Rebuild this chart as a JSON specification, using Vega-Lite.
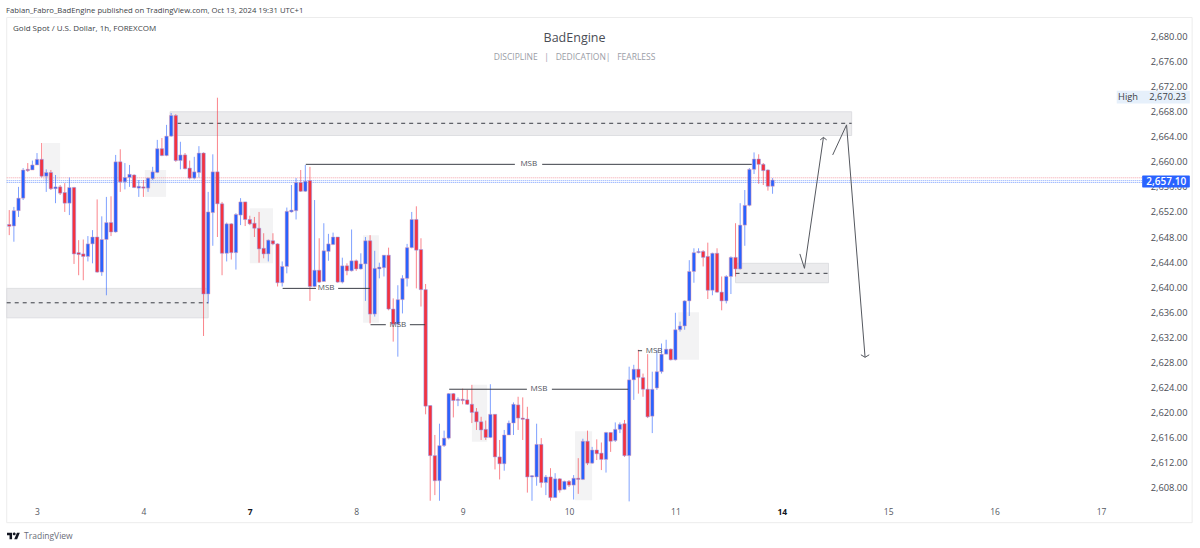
{"$schema":"https://vega.github.io/schema/vega-lite/v6.json","width":1200,"height":548,"autosize":"none","padding":0,"background":"white","config":{"view":{"stroke":null},"font":"Open Sans"},
"datasets":{"c":[
{"b":-6,"o":2650.0,"h":2652.3,"l":2648.3,"c":2649.7,"d":"D"},
{"b":-5,"o":2649.75,"h":2652.8,"l":2647.25,"c":2652.2,"d":"U"},
{"b":-4,"o":2652.2,"h":2656.0,"l":2651.2,"c":2654.2,"d":"U"},
{"b":-3,"o":2654.2,"h":2659.0,"l":2653.9,"c":2658.7,"d":"U"},
{"b":-2,"o":2658.8,"h":2659.8,"l":2658.4,"c":2658.6,"d":"D"},
{"b":-1,"o":2658.7,"h":2660.2,"l":2658.7,"c":2659.5,"d":"U"},
{"b":0,"o":2659.5,"h":2661.4,"l":2659.5,"c":2660.4,"d":"U"},
{"b":1,"o":2660.4,"h":2663.0,"l":2657.5,"c":2657.7,"d":"D"},
{"b":2,"o":2657.7,"h":2658.8,"l":2655.2,"c":2658.3,"d":"U"},
{"b":3,"o":2658.3,"h":2658.7,"l":2655.5,"c":2655.7,"d":"D"},
{"b":4,"o":2655.7,"h":2657.9,"l":2653.4,"c":2656.0,"d":"U"},
{"b":5,"o":2656.0,"h":2656.3,"l":2654.7,"c":2655.0,"d":"D"},
{"b":6,"o":2655.1,"h":2656.6,"l":2652.0,"c":2653.4,"d":"D"},
{"b":7,"o":2653.4,"h":2657.5,"l":2651.5,"c":2655.9,"d":"U"},
{"b":8,"o":2655.9,"h":2656.0,"l":2643.7,"c":2645.3,"d":"D"},
{"b":9,"o":2645.5,"h":2647.5,"l":2641.9,"c":2645.2,"d":"D"},
{"b":10,"o":2645.3,"h":2647.6,"l":2641.1,"c":2644.9,"d":"D"},
{"b":11,"o":2644.9,"h":2648.15,"l":2644.1,"c":2646.9,"d":"U"},
{"b":12,"o":2646.9,"h":2649.1,"l":2643.8,"c":2648.0,"d":"U"},
{"b":13,"o":2648.0,"h":2654.0,"l":2642.3,"c":2642.4,"d":"D"},
{"b":14,"o":2642.4,"h":2651.3,"l":2641.8,"c":2647.6,"d":"U"},
{"b":15,"o":2647.6,"h":2654.4,"l":2638.7,"c":2650.3,"d":"U"},
{"b":16,"o":2650.3,"h":2654.5,"l":2648.15,"c":2648.8,"d":"D"},
{"b":17,"o":2648.8,"h":2661.1,"l":2648.7,"c":2660.0,"d":"U"},
{"b":18,"o":2660.0,"h":2662.0,"l":2655.2,"c":2656.8,"d":"D"},
{"b":19,"o":2656.8,"h":2659.8,"l":2655.6,"c":2657.5,"d":"U"},
{"b":20,"o":2657.5,"h":2659.5,"l":2656.0,"c":2658.0,"d":"U"},
{"b":21,"o":2657.9,"h":2658.0,"l":2655.8,"c":2655.9,"d":"D"},
{"b":22,"o":2655.8,"h":2657.1,"l":2654.4,"c":2656.1,"d":"U"},
{"b":23,"o":2656.0,"h":2657.1,"l":2654.4,"c":2655.8,"d":"D"},
{"b":24,"o":2655.8,"h":2657.5,"l":2655.2,"c":2657.4,"d":"U"},
{"b":25,"o":2657.3,"h":2659.2,"l":2657.1,"c":2658.4,"d":"U"},
{"b":26,"o":2658.3,"h":2663.5,"l":2658.2,"c":2662.1,"d":"U"},
{"b":27,"o":2662.1,"h":2663.8,"l":2660.9,"c":2661.0,"d":"D"},
{"b":28,"o":2661.0,"h":2665.9,"l":2660.9,"c":2664.1,"d":"U"},
{"b":29,"o":2664.1,"h":2667.8,"l":2664.0,"c":2667.4,"d":"U"},
{"b":30,"o":2667.4,"h":2667.6,"l":2660.0,"c":2660.2,"d":"D"},
{"b":31,"o":2660.2,"h":2663.2,"l":2658.8,"c":2661.1,"d":"U"},
{"b":32,"o":2661.1,"h":2661.4,"l":2658.8,"c":2658.9,"d":"D"},
{"b":33,"o":2659.0,"h":2660.2,"l":2657.2,"c":2657.4,"d":"D"},
{"b":34,"o":2657.4,"h":2660.8,"l":2657.2,"c":2658.4,"d":"U"},
{"b":35,"o":2658.3,"h":2662.5,"l":2657.5,"c":2661.4,"d":"U"},
{"b":36,"o":2661.4,"h":2661.5,"l":2632.2,"c":2638.9,"d":"D"},
{"b":37,"o":2638.9,"h":2655.2,"l":2637.4,"c":2652.0,"d":"U"},
{"b":38,"o":2651.9,"h":2661.2,"l":2646.6,"c":2658.4,"d":"U"},
{"b":39,"o":2658.4,"h":2670.23,"l":2648.0,"c":2653.3,"d":"D"},
{"b":40,"o":2653.3,"h":2653.6,"l":2641.9,"c":2645.4,"d":"D"},
{"b":41,"o":2645.4,"h":2650.3,"l":2644.1,"c":2650.1,"d":"U"},
{"b":42,"o":2650.1,"h":2650.2,"l":2644.4,"c":2645.5,"d":"D"},
{"b":43,"o":2645.5,"h":2651.8,"l":2642.8,"c":2651.6,"d":"U"},
{"b":44,"o":2651.5,"h":2654.2,"l":2649.9,"c":2653.6,"d":"U"},
{"b":45,"o":2653.6,"h":2653.6,"l":2649.75,"c":2650.8,"d":"D"},
{"b":46,"o":2650.8,"h":2651.4,"l":2649.9,"c":2650.1,"d":"D"},
{"b":47,"o":2650.2,"h":2651.2,"l":2648.0,"c":2649.4,"d":"D"},
{"b":48,"o":2649.4,"h":2652.0,"l":2643.9,"c":2646.1,"d":"D"},
{"b":49,"o":2646.2,"h":2648.6,"l":2644.6,"c":2645.3,"d":"D"},
{"b":50,"o":2645.3,"h":2647.6,"l":2644.1,"c":2647.5,"d":"U"},
{"b":51,"o":2647.4,"h":2648.6,"l":2646.7,"c":2646.9,"d":"D"},
{"b":52,"o":2646.9,"h":2647.0,"l":2640.1,"c":2640.7,"d":"D"},
{"b":53,"o":2640.7,"h":2644.1,"l":2640.1,"c":2643.3,"d":"U"},
{"b":54,"o":2643.3,"h":2652.7,"l":2642.2,"c":2652.1,"d":"U"},
{"b":55,"o":2652.0,"h":2656.3,"l":2651.9,"c":2652.3,"d":"U"},
{"b":56,"o":2652.2,"h":2657.4,"l":2650.8,"c":2656.7,"d":"U"},
{"b":57,"o":2656.7,"h":2658.7,"l":2655.2,"c":2655.3,"d":"D"},
{"b":58,"o":2655.3,"h":2659.5,"l":2655.2,"c":2656.9,"d":"U"},
{"b":59,"o":2657.0,"h":2659.2,"l":2637.8,"c":2640.1,"d":"D"},
{"b":60,"o":2640.1,"h":2653.9,"l":2640.0,"c":2642.7,"d":"U"},
{"b":61,"o":2642.7,"h":2647.8,"l":2640.7,"c":2640.8,"d":"D"},
{"b":62,"o":2640.9,"h":2650.2,"l":2640.9,"c":2645.8,"d":"U"},
{"b":63,"o":2645.7,"h":2648.5,"l":2644.2,"c":2646.9,"d":"U"},
{"b":64,"o":2646.8,"h":2648.7,"l":2646.7,"c":2648.0,"d":"U"},
{"b":65,"o":2648.0,"h":2648.0,"l":2640.7,"c":2640.8,"d":"D"},
{"b":66,"o":2640.8,"h":2644.7,"l":2640.6,"c":2643.4,"d":"U"},
{"b":67,"o":2643.4,"h":2643.8,"l":2641.9,"c":2642.6,"d":"D"},
{"b":68,"o":2642.6,"h":2649.2,"l":2642.5,"c":2644.2,"d":"U"},
{"b":69,"o":2644.2,"h":2644.4,"l":2642.6,"c":2642.9,"d":"D"},
{"b":70,"o":2642.9,"h":2645.4,"l":2642.8,"c":2643.7,"d":"U"},
{"b":71,"o":2643.7,"h":2648.0,"l":2637.8,"c":2647.4,"d":"U"},
{"b":72,"o":2647.4,"h":2648.3,"l":2634.2,"c":2635.7,"d":"D"},
{"b":73,"o":2635.7,"h":2645.8,"l":2635.3,"c":2643.0,"d":"U"},
{"b":74,"o":2642.9,"h":2643.9,"l":2641.4,"c":2643.2,"d":"U"},
{"b":75,"o":2643.1,"h":2645.1,"l":2641.7,"c":2645.1,"d":"U"},
{"b":76,"o":2645.1,"h":2646.3,"l":2636.3,"c":2636.5,"d":"D"},
{"b":77,"o":2636.5,"h":2638.2,"l":2631.3,"c":2634.1,"d":"D"},
{"b":78,"o":2634.1,"h":2640.3,"l":2628.9,"c":2638.0,"d":"U"},
{"b":79,"o":2638.0,"h":2641.9,"l":2635.8,"c":2641.4,"d":"U"},
{"b":80,"o":2641.4,"h":2646.9,"l":2640.1,"c":2646.3,"d":"U"},
{"b":81,"o":2646.3,"h":2652.0,"l":2646.2,"c":2650.8,"d":"U"},
{"b":82,"o":2650.8,"h":2652.9,"l":2639.8,"c":2645.9,"d":"D"},
{"b":83,"o":2646.0,"h":2647.8,"l":2636.9,"c":2639.6,"d":"D"},
{"b":84,"o":2639.6,"h":2640.5,"l":2619.7,"c":2621.0,"d":"D"},
{"b":85,"o":2621.1,"h":2621.1,"l":2605.9,"c":2613.1,"d":"D"},
{"b":86,"o":2613.1,"h":2616.4,"l":2606.8,"c":2609.1,"d":"D"},
{"b":87,"o":2609.1,"h":2618.2,"l":2605.9,"c":2614.7,"d":"U"},
{"b":88,"o":2614.7,"h":2617.1,"l":2614.5,"c":2615.9,"d":"U"},
{"b":89,"o":2615.9,"h":2623.1,"l":2615.7,"c":2623.0,"d":"U"},
{"b":90,"o":2623.0,"h":2623.1,"l":2619.2,"c":2621.9,"d":"D"},
{"b":91,"o":2621.9,"h":2622.4,"l":2621.0,"c":2622.1,"d":"U"},
{"b":92,"o":2622.1,"h":2623.8,"l":2621.3,"c":2621.9,"d":"D"},
{"b":93,"o":2622.0,"h":2623.6,"l":2621.2,"c":2621.3,"d":"D"},
{"b":94,"o":2621.3,"h":2624.4,"l":2618.3,"c":2620.0,"d":"D"},
{"b":95,"o":2620.1,"h":2620.7,"l":2617.2,"c":2618.5,"d":"D"},
{"b":96,"o":2618.5,"h":2619.3,"l":2615.6,"c":2617.2,"d":"D"},
{"b":97,"o":2617.3,"h":2618.7,"l":2615.6,"c":2616.0,"d":"D"},
{"b":98,"o":2616.0,"h":2624.5,"l":2615.9,"c":2619.7,"d":"U"},
{"b":99,"o":2619.7,"h":2619.7,"l":2610.9,"c":2612.9,"d":"D"},
{"b":100,"o":2612.9,"h":2615.6,"l":2609.3,"c":2611.8,"d":"D"},
{"b":101,"o":2611.8,"h":2617.2,"l":2610.7,"c":2616.4,"d":"U"},
{"b":102,"o":2616.4,"h":2618.7,"l":2616.4,"c":2618.3,"d":"U"},
{"b":103,"o":2618.3,"h":2621.6,"l":2616.4,"c":2621.3,"d":"U"},
{"b":104,"o":2621.2,"h":2622.5,"l":2617.2,"c":2619.1,"d":"D"},
{"b":105,"o":2619.1,"h":2622.4,"l":2615.6,"c":2618.9,"d":"D"},
{"b":106,"o":2618.95,"h":2620.9,"l":2607.2,"c":2609.7,"d":"D"},
{"b":107,"o":2609.7,"h":2610.0,"l":2605.9,"c":2609.9,"d":"U"},
{"b":108,"o":2609.7,"h":2618.2,"l":2608.3,"c":2614.9,"d":"U"},
{"b":109,"o":2614.9,"h":2615.9,"l":2608.0,"c":2608.8,"d":"D"},
{"b":110,"o":2608.8,"h":2610.0,"l":2606.8,"c":2609.7,"d":"U"},
{"b":111,"o":2609.7,"h":2611.1,"l":2605.9,"c":2606.4,"d":"D"},
{"b":112,"o":2606.4,"h":2610.3,"l":2606.4,"c":2609.4,"d":"U"},
{"b":113,"o":2609.4,"h":2609.5,"l":2607.2,"c":2607.6,"d":"D"},
{"b":114,"o":2607.7,"h":2609.1,"l":2607.6,"c":2609.0,"d":"U"},
{"b":115,"o":2609.0,"h":2609.2,"l":2608.1,"c":2608.4,"d":"D"},
{"b":116,"o":2608.4,"h":2610.0,"l":2606.1,"c":2609.5,"d":"U"},
{"b":117,"o":2609.5,"h":2612.7,"l":2607.0,"c":2609.3,"d":"D"},
{"b":118,"o":2609.3,"h":2615.8,"l":2609.2,"c":2615.4,"d":"U"},
{"b":119,"o":2615.4,"h":2617.1,"l":2611.6,"c":2611.9,"d":"D"},
{"b":120,"o":2611.9,"h":2614.5,"l":2611.8,"c":2614.0,"d":"U"},
{"b":121,"o":2614.0,"h":2615.7,"l":2612.4,"c":2613.4,"d":"D"},
{"b":122,"o":2613.5,"h":2615.2,"l":2610.8,"c":2612.5,"d":"D"},
{"b":123,"o":2612.5,"h":2616.9,"l":2610.4,"c":2616.8,"d":"U"},
{"b":124,"o":2616.8,"h":2616.8,"l":2613.7,"c":2615.4,"d":"D"},
{"b":125,"o":2615.5,"h":2618.4,"l":2615.3,"c":2617.3,"d":"U"},
{"b":126,"o":2617.3,"h":2618.4,"l":2616.7,"c":2618.1,"d":"U"},
{"b":127,"o":2618.2,"h":2618.8,"l":2612.9,"c":2613.1,"d":"D"},
{"b":128,"o":2613.1,"h":2627.3,"l":2605.8,"c":2625.2,"d":"U"},
{"b":129,"o":2625.2,"h":2627.6,"l":2622.0,"c":2626.9,"d":"U"},
{"b":130,"o":2626.9,"h":2630.0,"l":2623.0,"c":2625.6,"d":"D"},
{"b":131,"o":2625.55,"h":2626.2,"l":2622.5,"c":2623.7,"d":"D"},
{"b":132,"o":2623.7,"h":2629.3,"l":2619.1,"c":2619.3,"d":"D"},
{"b":133,"o":2619.4,"h":2626.5,"l":2616.7,"c":2623.7,"d":"U"},
{"b":134,"o":2623.9,"h":2630.0,"l":2623.6,"c":2626.5,"d":"U"},
{"b":135,"o":2626.5,"h":2631.0,"l":2626.2,"c":2629.3,"d":"U"},
{"b":136,"o":2629.3,"h":2631.6,"l":2629.3,"c":2630.1,"d":"U"},
{"b":137,"o":2630.1,"h":2630.2,"l":2628.3,"c":2628.4,"d":"D"},
{"b":138,"o":2628.4,"h":2635.9,"l":2628.3,"c":2633.2,"d":"U"},
{"b":139,"o":2633.2,"h":2634.5,"l":2632.9,"c":2633.8,"d":"U"},
{"b":140,"o":2633.8,"h":2637.9,"l":2633.2,"c":2637.8,"d":"U"},
{"b":141,"o":2637.8,"h":2644.3,"l":2635.4,"c":2642.5,"d":"U"},
{"b":142,"o":2642.5,"h":2646.2,"l":2640.7,"c":2645.5,"d":"U"},
{"b":143,"o":2645.5,"h":2646.2,"l":2645.4,"c":2645.7,"d":"U"},
{"b":144,"o":2645.7,"h":2645.9,"l":2643.3,"c":2644.75,"d":"D"},
{"b":145,"o":2644.9,"h":2647.1,"l":2638.1,"c":2639.5,"d":"D"},
{"b":146,"o":2639.5,"h":2645.5,"l":2638.7,"c":2645.4,"d":"U"},
{"b":147,"o":2645.4,"h":2646.2,"l":2639.1,"c":2639.2,"d":"D"},
{"b":148,"o":2639.2,"h":2641.7,"l":2636.3,"c":2637.8,"d":"D"},
{"b":149,"o":2637.8,"h":2641.9,"l":2637.4,"c":2641.7,"d":"U"},
{"b":150,"o":2641.7,"h":2644.9,"l":2638.9,"c":2644.75,"d":"U"},
{"b":151,"o":2644.75,"h":2650.2,"l":2641.7,"c":2642.9,"d":"D"},
{"b":152,"o":2642.9,"h":2653.4,"l":2642.8,"c":2649.9,"d":"U"},
{"b":153,"o":2649.9,"h":2655.5,"l":2646.6,"c":2653.05,"d":"U"},
{"b":154,"o":2653.05,"h":2659.0,"l":2652.9,"c":2658.8,"d":"U"},
{"b":155,"o":2658.8,"h":2661.5,"l":2658.05,"c":2660.45,"d":"U"},
{"b":156,"o":2660.45,"h":2661.2,"l":2656.5,"c":2659.6,"d":"D"},
{"b":157,"o":2659.6,"h":2659.8,"l":2656.3,"c":2658.6,"d":"D"},
{"b":158,"o":2658.7,"h":2658.8,"l":2655.4,"c":2656.1,"d":"D"},
{"b":159,"o":2656.1,"h":2657.4,"l":2654.9,"c":2657.1,"d":"U"}
]},
"encoding":{
"x":{"field":"b","type":"quantitative","scale":{"domain":[-8,251.4],"nice":false,"zero":false,"padding":0},"axis":{"title":null,"orient":"bottom","offset":-41,"values":[0,23,46,69,92,115,138,161,184,207,230],"labelExpr":"['3','4','7','8','9','10','11','14','15','16','17'][datum.value/23]","domain":false,"ticks":false,"grid":false,"labelPadding":0,"labelFontSize":8.5,"labelFont":"Open Sans","labelColor":{"condition":{"test":"datum.value==46||datum.value==161","value":"#131722"},"value":"#55585f"},"labelFontWeight":{"condition":{"test":"datum.value==46||datum.value==161","value":"bold"},"value":"normal"},"labelFlush":false,"labelOverlap":false}},
"y":{"field":"p","type":"quantitative","title":null,"scale":{"domain":[2598.36,2685.83],"nice":false,"zero":false,"padding":0},"axis":{"title":null,"orient":"right","offset":-13,"values":[2608,2612,2616,2620,2624,2628,2632,2636,2640,2644,2648,2652,2656,2660,2664,2668,2672,2676,2680],"format":",.2f","domain":false,"ticks":false,"grid":false,"labelPadding":0,"labelAlign":"right","labelFontSize":9.3,"labelFont":"Open Sans","labelColor":"#4a4d55","labelFlush":false,"labelOverlap":false}}
},
"layer":[
{"data":{"values":[{"b":-6.55,"b2":249.7,"p":2683.03,"p2":2602.4}]},"mark":{"type":"rect","filled":false,"stroke":"#ececec","strokeWidth":1},"encoding":{"x2":{"field":"b2"},"y2":{"field":"p2"}}},
{"data":{"values":[
{"b":1.3,"b2":5.0,"p":2663.0,"p2":2657.1},{"b":23.3,"b2":27.9,"p":2658.7,"p2":2654.4},{"b":46.0,"b2":51.0,"p":2652.6,"p2":2643.8},{"b":70.5,"b2":73.9,"p":2648.3,"p2":2634.3},{"b":94.0,"b2":97.3,"p":2624.4,"p2":2615.3},{"b":116.3,"b2":120.0,"p":2617.0,"p2":2606.0},{"b":138.6,"b2":143.1,"p":2636.0,"p2":2628.4}]},"mark":{"type":"rect","fill":"#f3f3f4"},"encoding":{"x2":{"field":"b2"},"y2":{"field":"p2"}}},
{"data":{"values":[
{"b":28.75,"b2":176.1,"p":2668.0,"p2":2664.2},{"b":-6.55,"b2":37,"p":2639.8,"p2":2635.1},{"b":151.0,"b2":171.1,"p":2643.8,"p2":2640.7}]},"mark":{"type":"rect","fill":"#ebebed","stroke":"#d8d9dd","strokeWidth":0.8},"encoding":{"x2":{"field":"b2"},"y2":{"field":"p2"}}},
{"data":{"values":[{"b":30.3,"b2":176.1,"p":2666.15},{"b":-6.55,"b2":37,"p":2637.5},{"b":151.0,"b2":171.1,"p":2642.2}]},"mark":{"type":"rule","stroke":"#3a3d45","strokeWidth":1,"strokeDash":[4,4]},"encoding":{"x2":{"field":"b2"}}},
{"data":{"values":[{"b":-6.55,"b2":238.9,"p":2657.45,"k":"r"},{"b":-6.55,"b2":238.9,"p":2657.0,"k":"u"},{"b":-6.55,"b2":238.9,"p":2656.7,"k":"u"}]},"mark":{"type":"rule","strokeWidth":1,"strokeDash":[1,1]},"encoding":{"x2":{"field":"b2"},"stroke":{"field":"k","type":"nominal","scale":{"domain":["r","u"],"range":["#f2a0a8","#7fa2ff"]},"legend":null}}},
{"data":{"name":"c"},"mark":{"type":"rule","strokeWidth":1,"opacity":0.6},"encoding":{"y":{"field":"h","type":"quantitative","title":null,"scale":{"domain":[2598.36,2685.83],"nice":false,"zero":false,"padding":0},"axis":{"title":null,"orient":"right","offset":-13,"values":[2608,2612,2616,2620,2624,2628,2632,2636,2640,2644,2648,2652,2656,2660,2664,2668,2672,2676,2680],"format":",.2f","domain":false,"ticks":false,"grid":false,"labelPadding":0,"labelAlign":"right","labelFontSize":9.3,"labelFont":"Open Sans","labelColor":"#4a4d55","labelFlush":false,"labelOverlap":false}},"y2":{"field":"l"},"color":{"field":"d","type":"nominal","scale":{"domain":["U","D"],"range":["#2962ff","#f6323e"]},"legend":null}}},
{"data":{"name":"c"},"mark":{"type":"bar","width":3.4,"strokeWidth":0.5},"encoding":{"y":{"field":"o","type":"quantitative","title":null,"scale":{"domain":[2598.36,2685.83],"nice":false,"zero":false,"padding":0},"axis":{"title":null,"orient":"right","offset":-13,"values":[2608,2612,2616,2620,2624,2628,2632,2636,2640,2644,2648,2652,2656,2660,2664,2668,2672,2676,2680],"format":",.2f","domain":false,"ticks":false,"grid":false,"labelPadding":0,"labelAlign":"right","labelFontSize":9.3,"labelFont":"Open Sans","labelColor":"#4a4d55","labelFlush":false,"labelOverlap":false}},"y2":{"field":"c"},"color":{"field":"d","type":"nominal","scale":{"domain":["U","D"],"range":["#2962ff","#f6323e"]},"legend":null},"stroke":{"field":"d","type":"nominal","scale":{"domain":["U","D"],"range":["#2962ff","#f6323e"]},"legend":null}}},
{"data":{"values":[
{"b":58.1,"b2":103.3,"p":2659.6},{"b":109.2,"b2":154.5,"p":2659.6},
{"b":53.1,"b2":60.3,"p":2639.8},{"b":65.1,"b2":72.0,"p":2639.8},
{"b":72.1,"b2":75.4,"p":2634.0},{"b":80.6,"b2":83.9,"p":2634.0},
{"b":89.1,"b2":105.9,"p":2623.7},{"b":111.3,"b2":127.8,"p":2623.7},
{"b":129.9,"b2":130.8,"p":2629.85}]},"mark":{"type":"rule","stroke":"#3c3f47","strokeWidth":1},"encoding":{"x2":{"field":"b2"}}},
{"data":{"values":[
{"s":"a","o":1,"b":164.9,"p":2645.3},{"s":"a","o":2,"b":165.9,"p":2643.0},{"s":"a","o":3,"b":170.0,"p":2663.9},
{"s":"h","o":1,"b":169.3,"p":2663.5},{"s":"h","o":2,"b":170.0,"p":2663.9},{"s":"h","o":3,"b":170.7,"p":2663.5},
{"s":"c","o":1,"b":172.0,"p":2661.1},{"s":"c","o":2,"b":175.0,"p":2665.9},{"s":"c","o":3,"b":179.0,"p":2628.8},
{"s":"e","o":1,"b":178.1,"p":2629.2},{"s":"e","o":2,"b":179.0,"p":2628.8},{"s":"e","o":3,"b":179.9,"p":2629.2}]},"mark":{"type":"line","stroke":"#55585f","strokeWidth":1},"encoding":{"detail":{"field":"s"},"order":{"field":"o","type":"quantitative"}}},
{"data":{"values":[{"b":106.3,"p":2659.6,"t":"MSB"},{"b":62.5,"p":2639.8,"t":"MSB"},{"b":78.0,"p":2634.0,"t":"MSB"},{"b":108.5,"p":2623.7,"t":"MSB"},{"b":133.4,"p":2629.85,"t":"MSB"}]},"mark":{"type":"text","fontSize":8,"color":"#50535b","font":"Open Sans"},"encoding":{"text":{"field":"t"}}},
{"data":{"values":[{"b":233.4,"b2":249.2,"p":2671.35,"p2":2669.3}]},"mark":{"type":"rect","fill":"#e6f0fb"},"encoding":{"x2":{"field":"b2"},"y2":{"field":"p2"}}},
{"data":{"values":[{"b":238.9,"b2":249.2,"p":2657.8,"p2":2655.9}]},"mark":{"type":"rect","fill":"#2962ff","cornerRadius":1},"encoding":{"x2":{"field":"b2"},"y2":{"field":"p2"}}},
{"data":{"values":[{"b":248.4,"p":2656.85,"t":"2,657.10"}]},"mark":{"type":"text","align":"right","fontSize":10,"fontWeight":600,"color":"white","font":"Open Sans"},"encoding":{"text":{"field":"t"}}},
{"data":{"values":[{"b":248.4,"p":2670.3,"t":"2,670.23"},{"b":238,"p":2670.3,"t":"High"}]},"mark":{"type":"text","align":"right","fontSize":9.3,"color":"#3c3f47","font":"Open Sans"},"encoding":{"text":{"field":"t"}}},
{"data":{"values":[{"b":-6.7,"p":2684.13,"t":"Fabian_Fabro_BadEngine published on TradingView.com, Oct 13, 2024 19:31 UTC+1"}]},"mark":{"type":"text","align":"left","fontSize":7.7,"color":"#3c3f47","font":"Open Sans"},"encoding":{"text":{"field":"t"}}},
{"data":{"values":[{"b":-5.19,"p":2681.2,"t":"Gold Spot / U.S. Dollar, 1h, FOREXCOM"}]},"mark":{"type":"text","align":"left","fontSize":8,"color":"#3c3f47","font":"Open Sans"},"encoding":{"text":{"field":"t"}}},
{"data":{"values":[{"b":116.2,"p":2679.75,"t":"BadEngine"}]},"mark":{"type":"text","fontSize":12.5,"color":"#4a4d55","font":"Open Sans"},"encoding":{"text":{"field":"t"}}},
{"data":{"values":[{"b":116.2,"p":2676.73,"t":"DISCIPLINE\u00a0\u00a0\u00a0|\u00a0\u00a0\u00a0DEDICATION|\u00a0\u00a0\u00a0FEARLESS"}]},"mark":{"type":"text","fontSize":8.5,"color":"#9a9da6","font":"Open Sans"},"encoding":{"text":{"field":"t"}}},
{"data":{"values":[{"b":-2.8,"p":2600.27,"t":"TradingView"}]},"mark":{"type":"text","align":"left","fontSize":8.5,"color":"#6a6d78","font":"Open Sans"},"encoding":{"text":{"field":"t"}}},
{"data":{"values":[{"b":-5.08,"p":2600.27}]},"mark":{"type":"point","filled":true,"opacity":1,"color":"#131722","size":169,"shape":"M-0.22 0.5H-0.61V-0.11H-1V-0.5H-0.22ZM0.56 0.5H0.11L0.53 -0.5H0.97ZM-0.11 -0.33a0.22 0.22 0 1 0 0.44 0a0.22 0.22 0 1 0 -0.44 0Z"}}
]}
